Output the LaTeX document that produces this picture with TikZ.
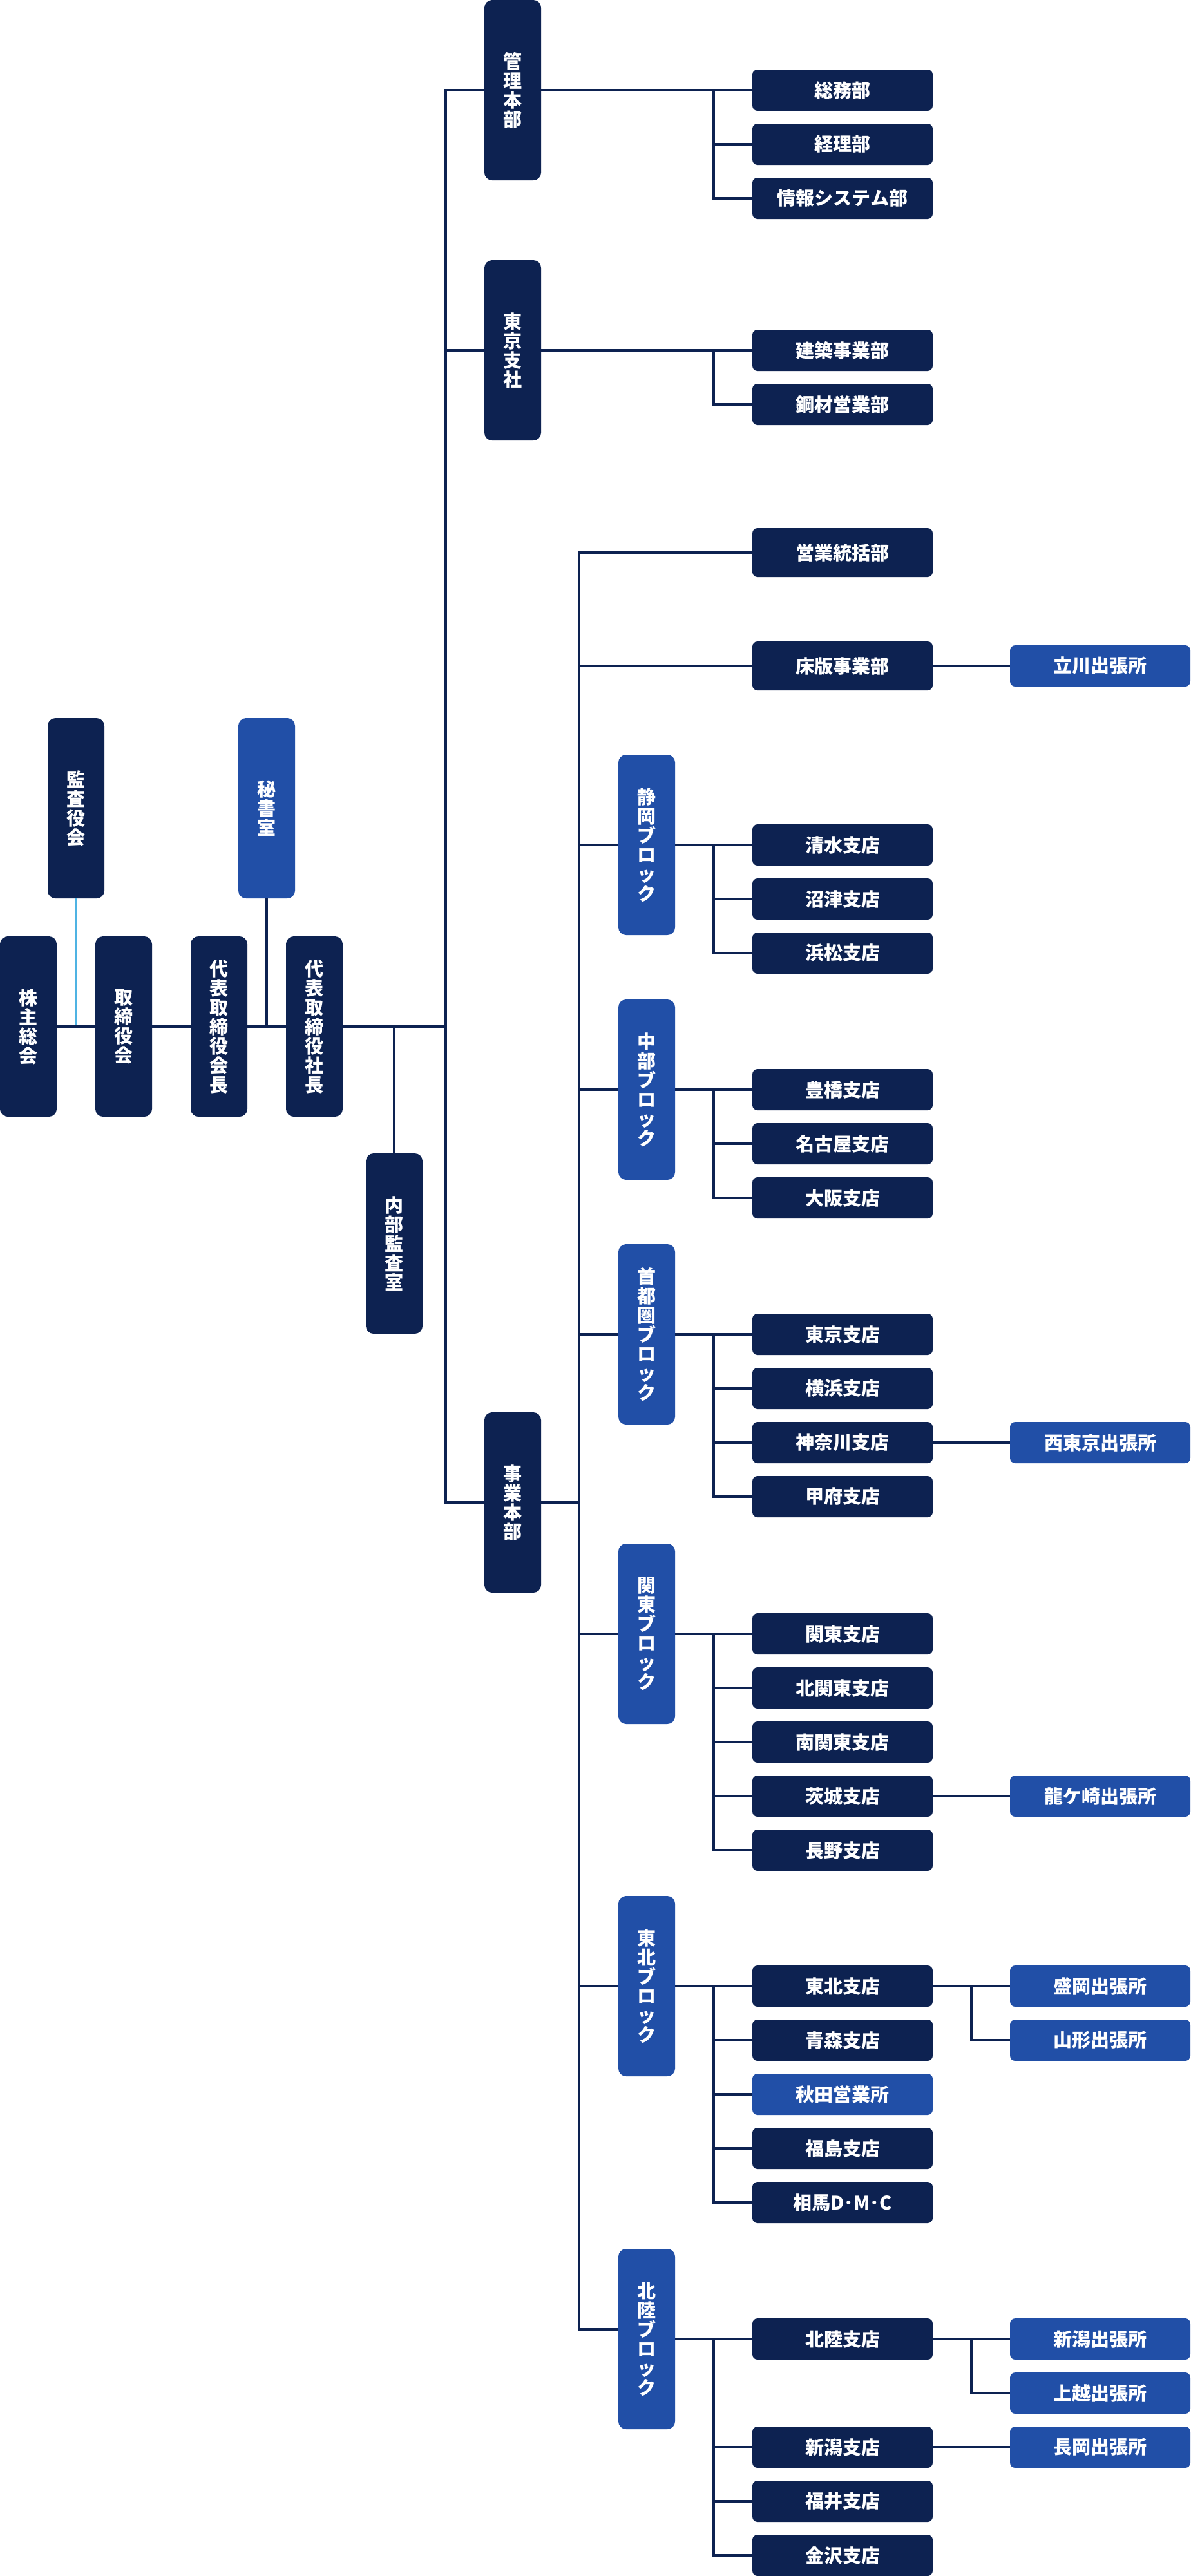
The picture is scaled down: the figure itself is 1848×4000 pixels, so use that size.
\documentclass[tikz,border=0pt]{standalone}
\usepackage{fontspec}
\newfontfamily\jpfont{Noto Sans CJK JP}
\definecolor{navy}{HTML}{0D2251}
\definecolor{blk}{HTML}{214FA7}
\definecolor{sky}{HTML}{4FB3E3}
\begin{document}
\begin{tikzpicture}[x=1pt,y=-1pt,
  base/.style={inner sep=0pt, text=white, font=\jpfont\bfseries\fontsize{29}{30}\selectfont},
  vnode/.style={base, fill=navy, minimum width=88pt, minimum height=280pt, rounded corners=12pt, align=center},
  hnode/.style={base, fill=navy, minimum width=280pt, minimum height=64pt, rounded corners=8pt},
  tall/.style={minimum height=76pt},
  lite/.style={fill=blk},
  ln/.style={draw=navy, line width=3.5pt},
  lnsky/.style={draw=sky, line width=3.5pt},
]
\path[use as bounding box] (0,0) rectangle (1848,4000);

% ---- top management ----
\node[vnode] (kansa) at (118,1255) {監\\査\\役\\会};
\node[vnode,lite] (hisho) at (414,1255) {秘\\書\\室};
\node[vnode] (kabu) at (44,1594) {株\\主\\総\\会};
\node[vnode] (tori) at (192,1594) {取\\締\\役\\会};
\node[vnode] (kaicho) at (340,1594) {代\\表\\取\\締\\役\\会\\長};
\node[vnode] (shacho) at (488,1594) {代\\表\\取\\締\\役\\社\\長};
\node[vnode] (naibu) at (612,1931) {内\\部\\監\\査\\室};

% ---- headquarters ----
\node[vnode] (kanri) at (796,140) {管\\理\\本\\部};
\node[vnode] (tokyoS) at (796,544) {東\\京\\支\\社};
\node[vnode] (jigyo) at (796,2333) {事\\業\\本\\部};

% ---- blocks ----
\node[vnode,lite] (shizuoka) at (1004,1312) {静\\岡\\ブ\\ロ\\ッ\\ク};
\node[vnode,lite] (chubu) at (1004,1692) {中\\部\\ブ\\ロ\\ッ\\ク};
\node[vnode,lite] (shuto) at (1004,2072) {首\\都\\圏\\ブ\\ロ\\ッ\\ク};
\node[vnode,lite] (kanto) at (1004,2537) {関\\東\\ブ\\ロ\\ッ\\ク};
\node[vnode,lite] (tohoku) at (1004,3084) {東\\北\\ブ\\ロ\\ッ\\ク};
\node[vnode,lite] (hokuriku) at (1004,3632) {北\\陸\\ブ\\ロ\\ッ\\ク};

% ---- departments / branches ----
\node[hnode] (somu) at (1308,140) {総務部};
\node[hnode] (keiri) at (1308,224) {経理部};
\node[hnode] (joho) at (1308,308) {情報システム部};
\node[hnode] (kenchiku) at (1308,544) {建築事業部};
\node[hnode] (kozai) at (1308,628) {鋼材営業部};
\node[hnode,tall] (eigyo) at (1308,858) {営業統括部};
\node[hnode,tall] (shoban) at (1308,1034) {床版事業部};
\node[hnode] (shimizu) at (1308,1312) {清水支店};
\node[hnode] (numazu) at (1308,1396) {沼津支店};
\node[hnode] (hamamatsu) at (1308,1480) {浜松支店};
\node[hnode] (toyohashi) at (1308,1692) {豊橋支店};
\node[hnode] (nagoya) at (1308,1776) {名古屋支店};
\node[hnode] (osaka) at (1308,1860) {大阪支店};
\node[hnode] (tokyoB) at (1308,2072) {東京支店};
\node[hnode] (yokohama) at (1308,2156) {横浜支店};
\node[hnode] (kanagawa) at (1308,2240) {神奈川支店};
\node[hnode] (kofu) at (1308,2324) {甲府支店};
\node[hnode] (kantoB) at (1308,2537) {関東支店};
\node[hnode] (kitakanto) at (1308,2621) {北関東支店};
\node[hnode] (minamikanto) at (1308,2705) {南関東支店};
\node[hnode] (ibaraki) at (1308,2789) {茨城支店};
\node[hnode] (nagano) at (1308,2873) {長野支店};
\node[hnode] (tohokuB) at (1308,3084) {東北支店};
\node[hnode] (aomori) at (1308,3168) {青森支店};
\node[hnode,lite] (akita) at (1308,3252) {秋田営業所};
\node[hnode] (fukushima) at (1308,3336) {福島支店};
\node[hnode] (soma) at (1308,3420) {相馬D･M･C};
\node[hnode] (hokurikuB) at (1308,3632) {北陸支店};
\node[hnode] (niigataB) at (1308,3800) {新潟支店};
\node[hnode] (fukui) at (1308,3884) {福井支店};
\node[hnode] (kanazawa) at (1308,3968) {金沢支店};

% ---- offices ----
\node[hnode,lite] (tachikawa) at (1708,1034) {立川出張所};
\node[hnode,lite] (nishitokyo) at (1708,2240) {西東京出張所};
\node[hnode,lite] (ryugasaki) at (1708,2789) {龍ケ崎出張所};
\node[hnode,lite] (morioka) at (1708,3084) {盛岡出張所};
\node[hnode,lite] (yamagata) at (1708,3168) {山形出張所};
\node[hnode,lite] (niigataS) at (1708,3632) {新潟出張所};
\node[hnode,lite] (joetsu) at (1708,3716) {上越出張所};
\node[hnode,lite] (nagaoka) at (1708,3800) {長岡出張所};

% ---- helper coordinates ----
\coordinate (t1) at (692,140);
\coordinate (t2) at (692,2333);
\coordinate (u2) at (899,3617);
\coordinate (b1) at (1108,0);
\coordinate (b2) at (1508,0);

% ---- connectors: top ----
\draw[lnsky] (kansa.south) -- (kansa.south |- kabu.east);
\draw[ln] (hisho.south) -- (hisho.south |- kabu.east);
\draw[ln] (kabu.east) -- (tori.west);
\draw[ln] (tori.east) -- (kaicho.west);
\draw[ln] (kaicho.east) -- (shacho.west);
\draw[ln] (shacho.east) -- (shacho.east -| t1);
\draw[ln] (naibu.north |- shacho.east) -- (naibu.north);

% ---- trunk ----
\draw[ln] (kanri.west) -| (t2) -- (jigyo.west);
\draw[ln] (tokyoS.west -| t1) -- (tokyoS.west);

% ---- 管理本部 ----
\draw[ln] (kanri.east) -- (somu.west);
\draw[ln] (b1 |- somu.west) |- (joho.west);
\draw[ln] (b1 |- keiri.west) -- (keiri.west);

% ---- 東京支社 ----
\draw[ln] (tokyoS.east) -- (kenchiku.west);
\draw[ln] (b1 |- kenchiku.west) |- (kozai.west);

% ---- 事業本部 trunk ----
\draw[ln] (jigyo.east) -- (jigyo.east -| u2);
\draw[ln] (eigyo.west) -| (u2) -- (u2 -| hokuriku.west);
\draw[ln] (shoban.west -| u2) -- (shoban.west);
\draw[ln] (shizuoka.west -| u2) -- (shizuoka.west);
\draw[ln] (chubu.west -| u2) -- (chubu.west);
\draw[ln] (shuto.west -| u2) -- (shuto.west);
\draw[ln] (kanto.west -| u2) -- (kanto.west);
\draw[ln] (tohoku.west -| u2) -- (tohoku.west);
\draw[ln] (shoban.east) -- (tachikawa.west);

% ---- 静岡 ----
\draw[ln] (shizuoka.east) -- (shimizu.west);
\draw[ln] (b1 |- shimizu.west) |- (hamamatsu.west);
\draw[ln] (b1 |- numazu.west) -- (numazu.west);

% ---- 中部 ----
\draw[ln] (chubu.east) -- (toyohashi.west);
\draw[ln] (b1 |- toyohashi.west) |- (osaka.west);
\draw[ln] (b1 |- nagoya.west) -- (nagoya.west);

% ---- 首都圏 ----
\draw[ln] (shuto.east) -- (tokyoB.west);
\draw[ln] (b1 |- tokyoB.west) |- (kofu.west);
\draw[ln] (b1 |- yokohama.west) -- (yokohama.west);
\draw[ln] (b1 |- kanagawa.west) -- (kanagawa.west);
\draw[ln] (kanagawa.east) -- (nishitokyo.west);

% ---- 関東 ----
\draw[ln] (kanto.east) -- (kantoB.west);
\draw[ln] (b1 |- kantoB.west) |- (nagano.west);
\draw[ln] (b1 |- kitakanto.west) -- (kitakanto.west);
\draw[ln] (b1 |- minamikanto.west) -- (minamikanto.west);
\draw[ln] (b1 |- ibaraki.west) -- (ibaraki.west);
\draw[ln] (ibaraki.east) -- (ryugasaki.west);

% ---- 東北 ----
\draw[ln] (tohoku.east) -- (tohokuB.west);
\draw[ln] (b1 |- tohokuB.west) |- (soma.west);
\draw[ln] (b1 |- aomori.west) -- (aomori.west);
\draw[ln] (b1 |- akita.west) -- (akita.west);
\draw[ln] (b1 |- fukushima.west) -- (fukushima.west);
\draw[ln] (tohokuB.east) -- (morioka.west);
\draw[ln] (b2 |- morioka.west) |- (yamagata.west);

% ---- 北陸 ----
\draw[ln] (hokuriku.east) -- (hokurikuB.west);
\draw[ln] (b1 |- hokurikuB.west) |- (kanazawa.west);
\draw[ln] (b1 |- niigataB.west) -- (niigataB.west);
\draw[ln] (b1 |- fukui.west) -- (fukui.west);
\draw[ln] (hokurikuB.east) -- (niigataS.west);
\draw[ln] (b2 |- niigataS.west) |- (joetsu.west);
\draw[ln] (niigataB.east) -- (nagaoka.west);
\end{tikzpicture}
\end{document}
